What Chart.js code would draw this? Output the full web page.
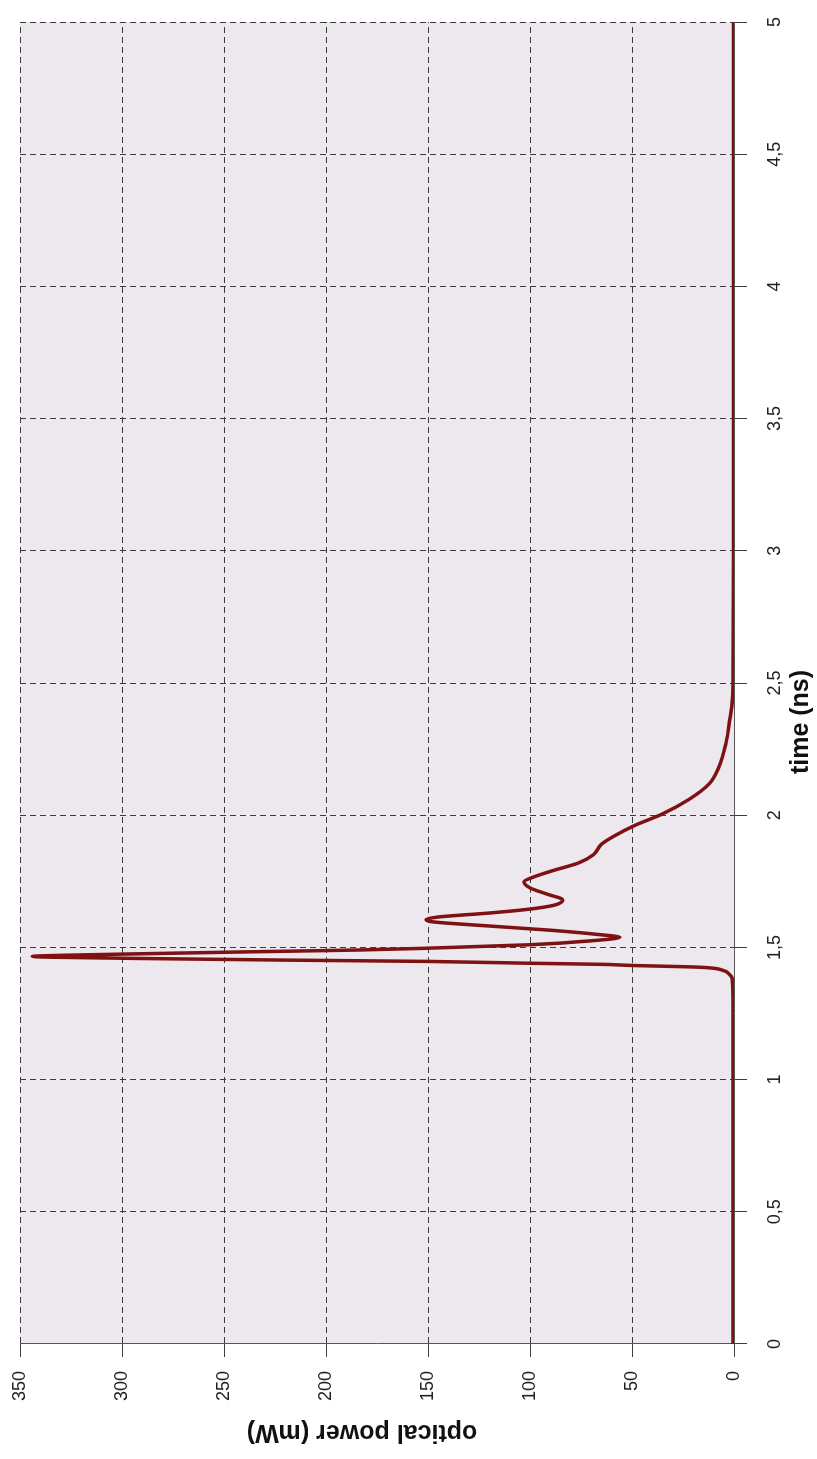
<!DOCTYPE html>
<html>
<head>
<meta charset="utf-8">
<script src="https://cdn.jsdelivr.net/npm/chart.js@4"></script>
<style>
  html, body { margin: 0; padding: 0; background: #fff; overflow: hidden; }
  body { width: 817px; height: 1459px; position: relative; }
  /* the chart is drawn landscape and turned a quarter turn to the left */
  #wrap {
    position: absolute; left: 0; top: 0;
    width: 1459px; height: 817px;
    transform-origin: 0 0;
    transform: translate(0px, 1459px) rotate(-90deg);
  }
</style>
</head>
<body>
<div id="wrap"><canvas id="chart" width="1459" height="817"></canvas></div>
<script>
// time (ns) and optical power (mW)
const timeNs = [0, 0.5, 1.0, 1.3, 1.38, 1.40, 1.413, 1.425, 1.432, 1.436, 1.44, 1.447, 1.452,
  1.458, 1.463, 1.466, 1.470, 1.476, 1.483, 1.490, 1.497, 1.51, 1.525, 1.538, 1.55,
  1.565, 1.583, 1.597, 1.605, 1.615, 1.63, 1.645, 1.66, 1.68, 1.70, 1.725, 1.748,
  1.767, 1.79, 1.82, 1.85, 1.89, 1.92, 1.96, 2.005, 2.06, 2.12, 2.18, 2.27, 2.35,
  2.42, 2.5, 3.0, 4.0, 5.0];
const powerMw = [0.5, 0.5, 0.5, 0.5, 0.8, 2.5, 5.4, 16.7, 51, 65, 100, 150, 220,
  290, 335, 344, 330, 290, 240, 185, 150, 100, 70, 56, 68,
  90, 124, 148, 151, 145, 120, 100, 88, 84, 91, 100, 103,
  98, 89, 76, 69, 65, 59, 49, 35, 22, 12, 7.5, 4, 2.3,
  1, 0.5, 0.3, 0.3, 0.3];

const timeTicks = ['0', '0,5', '1', '1,5', '2', '2,5', '3', '3,5', '4', '4,5', '5'];
const powerTicks = ['0', '50', '100', '150', '200', '250', '300', '350'];
const xTitle = 'time (ns)';
const yTitle = 'optical power (mW)';

const FONT = '"Liberation Sans", Arial, Helvetica, sans-serif';

const points = timeNs.map((t, i) => ({ x: t, y: powerMw[i] }));

// paper tint inside the plot + axis titles
const paper = {
  id: 'paper',
  beforeDraw(chart) {
    const { ctx, chartArea: a } = chart;
    ctx.save();
    ctx.fillStyle = '#ffffff';
    ctx.fillRect(0, 0, chart.width, chart.height);
    ctx.fillStyle = '#ede8ed';
    ctx.fillRect(a.left, a.top, a.right - a.left, a.bottom - a.top);
    ctx.restore();
  },
  afterDraw(chart) {
    const { ctx } = chart;
    ctx.save();
    ctx.fillStyle = '#111';
    ctx.font = 'bold 25px ' + FONT;
    ctx.textAlign = 'center';
    ctx.textBaseline = 'middle';
    ctx.fillText(xTitle, 737, 801);
    ctx.translate(27, 362);
    ctx.rotate(-Math.PI / 2);
    ctx.fillText(yTitle, 0, 0);
    ctx.restore();
  }
};

const ctx = document.getElementById('chart').getContext('2d');
const chart = new Chart(ctx, {
  type: 'scatter',
  data: {
    datasets: [{
      data: points,
      showLine: true,
      borderColor: '#7e1212',
      borderWidth: 3.5,
      pointRadius: 0,
      cubicInterpolationMode: 'monotone'
    }]
  },
  options: {
    responsive: false,
    animation: false,
    layout: { padding: { top: 20, right: 14, left: 0, bottom: 0 } },
    plugins: { legend: { display: false }, tooltip: { enabled: false } },
    scales: {
      x: {
        type: 'linear', min: 0, max: 5,
        afterFit: (s) => { s.height = 83; },
        ticks: {
          stepSize: 0.5, padding: 17, color: '#222', maxRotation: 0,
          font: { family: FONT, size: 18 },
          callback: (v, i) => timeTicks[i]
        },
        grid: { color: '#3c3c3c', lineWidth: 1, tickLength: 13 },
        border: { color: '#555', width: 1, dash: [6, 4] }
      },
      y: {
        type: 'linear', min: 0, max: 350,
        afterFit: (s) => { s.width = 115; s.paddingTop = 0; },
        ticks: {
          stepSize: 50, padding: 14, color: '#222',
          font: { family: FONT, size: 18 },
          callback: (v, i) => powerTicks[i]
        },
        grid: { color: '#3c3c3c', lineWidth: 1, tickLength: 13 },
        border: { color: '#555', width: 1, dash: [6, 4] }
      }
    }
  },
  plugins: [paper]
});
</script>
</body>
</html>
